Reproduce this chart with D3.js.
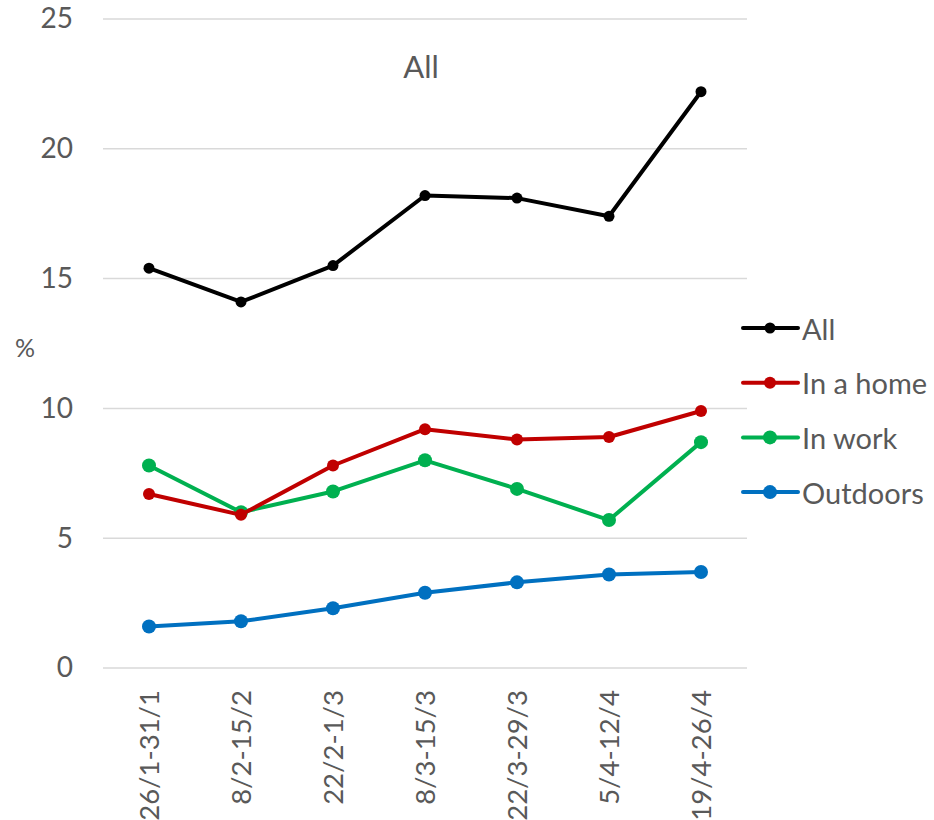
<!DOCTYPE html>
<html><head><meta charset="utf-8">
<script src="https://cdn.jsdelivr.net/npm/d3@7"></script>
<style>body{margin:0;background:#fff}svg{display:block}text{font-family:Lato,"Open Sans",sans-serif;fill:#595959}</style>
</head><body>
<script>
const categories = ["26/1-31/1","8/2-15/2","22/2-1/3","8/3-15/3","22/3-29/3","5/4-12/4","19/4-26/4"];
const seriesNames = ["All","In a home","In work","Outdoors"];
const allValues = [15.4,14.1,15.5,18.2,18.1,17.4,22.2];
const homeValues = [6.7,5.9,7.8,9.2,8.8,8.9,9.9];
const workValues = [7.8,6.0,6.8,8.0,6.9,5.7,8.7];
const outdoorValues = [1.6,1.8,2.3,2.9,3.3,3.6,3.7];
const yTicks = [0,5,10,15,20,25];
const colors = ["#000000","#C00000","#00B050","#0070C0"];

const series = [
  {name: seriesNames[0], values: allValues, color: colors[0], w: 4, r: 5.5},
  {name: seriesNames[1], values: homeValues, color: colors[1], w: 4, r: 6},
  {name: seriesNames[2], values: workValues, color: colors[2], w: 4, r: 7},
  {name: seriesNames[3], values: outdoorValues, color: colors[3], w: 4, r: 7}
];

const W = 934, H = 820;
const svg = d3.select("body").append("svg").attr("width", W).attr("height", H);
const x = d3.scaleBand().domain(categories).range([103, 747]);
const y = d3.scaleLinear().domain([0, 25]).range([668, 19]);

svg.append("g").selectAll("line").data(yTicks).join("line")
  .attr("x1", 103).attr("x2", 747)
  .attr("y1", d => y(d)).attr("y2", d => y(d))
  .attr("stroke", "#d9d9d9").attr("stroke-width", 1.5);

const yAxis = d3.axisLeft(y).tickValues(yTicks).tickSize(0).tickPadding(0);
const yg = svg.append("g").attr("transform", "translate(73,0)").call(yAxis);
yg.select(".domain").remove();
yg.selectAll("text").attr("font-size", 28).attr("fill", "#595959").attr("font-family", "Lato,'Open Sans',sans-serif");

const xAxis = d3.axisBottom(x).tickSize(0).tickPadding(0);
const xg = svg.append("g").attr("transform", "translate(0,690)").call(xAxis);
xg.select(".domain").remove();
xg.selectAll("text")
  .attr("font-size", 27.5).attr("fill", "#595959").attr("font-family", "Lato,'Open Sans',sans-serif")
  .attr("transform", "rotate(-90)")
  .attr("text-anchor", "end")
  .attr("x", 0).attr("y", 0).attr("dy", "0.35em");

svg.append("text").attr("x", 25).attr("y", 347).attr("text-anchor", "middle")
  .attr("dominant-baseline", "central").attr("font-size", 25).text("%");

svg.append("text").attr("x", 421).attr("y", 66).attr("text-anchor", "middle")
  .attr("dominant-baseline", "central").attr("font-size", 31).text("All");

const line = d3.line().x((d, i) => x(categories[i]) + x.bandwidth() / 2).y(d => y(d));

series.slice().reverse().forEach(s => {
  const g = svg.append("g");
  g.append("path").attr("d", line(s.values)).attr("fill", "none")
    .attr("stroke", s.color).attr("stroke-width", s.w).attr("stroke-linejoin", "round");
  g.selectAll("circle").data(s.values).join("circle")
    .attr("cx", (d, i) => x(categories[i]) + x.bandwidth() / 2)
    .attr("cy", d => y(d)).attr("r", s.r).attr("fill", s.color);
});

const leg = svg.append("g");
series.forEach((s, i) => {
  const ly = 328 + i * 54.7;
  leg.append("line").attr("x1", 743).attr("x2", 798).attr("y1", ly).attr("y2", ly)
    .attr("stroke", s.color).attr("stroke-width", s.w).attr("stroke-linecap", "round");
  leg.append("circle").attr("cx", 770).attr("cy", ly).attr("r", s.r).attr("fill", s.color);
  leg.append("text").attr("x", 802).attr("y", ly).attr("dominant-baseline", "central")
    .attr("font-size", 29).text(s.name);
});
</script>
</body></html>
